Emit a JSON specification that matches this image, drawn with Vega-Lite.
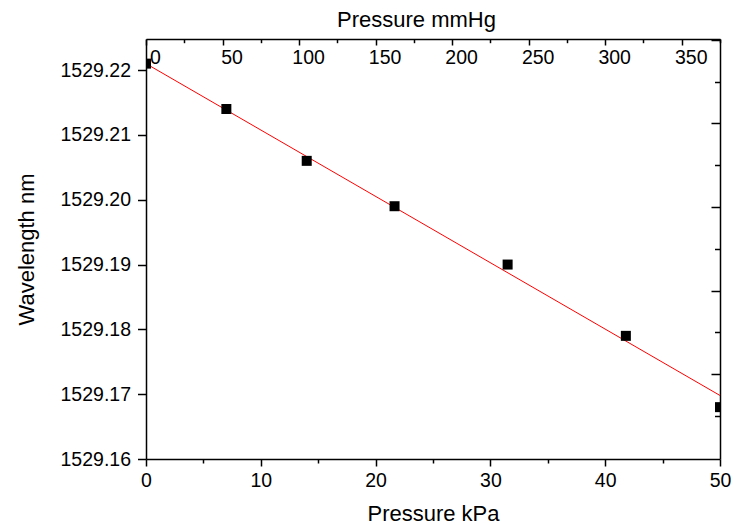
{
  "$schema": "https://vega.github.io/schema/vega-lite/v6.json",
  "width": 574,
  "height": 420,
  "autosize": "none",
  "padding": {"left": 146, "top": 39, "right": 14, "bottom": 66},
  "background": "white",
  "config": {
    "view": {"stroke": null},
    "axis": {
      "labelFont": "Liberation Sans",
      "titleFont": "Liberation Sans",
      "labelFontSize": 19.5,
      "titleFontSize": 22,
      "titleFontWeight": "normal",
      "labelColor": "black",
      "titleColor": "black",
      "domainColor": "black",
      "tickColor": "black",
      "domainWidth": 1.5,
      "tickWidth": 1.5,
      "grid": false,
      "labelFlush": false,
      "labelOverlap": false
    }
  },
  "datasets": {
    "meas": [
      {"kPa": 0, "nm": 1529.221},
      {"kPa": 7.0, "nm": 1529.214},
      {"kPa": 14.0, "nm": 1529.206},
      {"kPa": 21.65, "nm": 1529.199},
      {"kPa": 31.5, "nm": 1529.190},
      {"kPa": 41.8, "nm": 1529.179},
      {"kPa": 50, "nm": 1529.168}
    ],
    "fit": [
      {"kPa": 0, "nm": 1529.2210},
      {"kPa": 50, "nm": 1529.1698}
    ],
    "mmHgAxis": [
      {"mmHg": 0, "r": 0},
      {"mmHg": 375, "r": 10}
    ]
  },
  "layer": [
    {
      "layer": [
        {
          "data": {"name": "fit"},
          "mark": {"type": "line", "color": "#ff0000", "strokeWidth": 1, "clip": true},
          "encoding": {
            "x": {
              "field": "kPa", "type": "quantitative",
              "scale": {"domain": [0, 50], "nice": false, "zero": false},
              "axis": {
                "orient": "bottom",
                "title": "Pressure kPa",
                "values": [0, 5, 10, 15, 20, 25, 30, 35, 40, 45, 50],
                "labelExpr": "datum.value % 10 == 0 ? datum.label : ''",
                "tickSize": {"condition": {"test": "datum.value % 10 == 0", "value": 7}, "value": 4},
                "labelPadding": 5.6,
                "titleBaseline": "alphabetic",
                "titleY": 61.8,
                "titleX": 287
              }
            },
            "y": {
              "field": "nm", "type": "quantitative",
              "scale": {"domain": [1529.16, 1529.2248], "nice": false, "zero": false},
              "axis": {
                "orient": "left",
                "title": "Wavelength nm",
                "values": [1529.16, 1529.165, 1529.17, 1529.175, 1529.18, 1529.185, 1529.19, 1529.195, 1529.2, 1529.205, 1529.21, 1529.215, 1529.22],
                "format": ".2f",
                "labelExpr": "round(datum.value * 1000) % 10 == 0 ? datum.label : ''",
                "tickSize": {"condition": {"test": "round(datum.value * 1000) % 10 == 0", "value": 8.5}, "value": 5},
                "labelPadding": 7,
                "titleBaseline": "alphabetic",
                "titleX": -113,
                "titleY": 210
              }
            }
          }
        },
        {
          "data": {"name": "meas"},
          "mark": {"type": "point", "shape": "square", "filled": true, "color": "black", "size": 100, "opacity": 1, "clip": true},
          "encoding": {
            "x": {"field": "kPa", "type": "quantitative"},
            "y": {"field": "nm", "type": "quantitative"}
          }
        }
      ]
    },
    {
      "data": {"name": "mmHgAxis"},
      "mark": {"type": "point", "opacity": 0},
      "encoding": {
        "x": {
          "field": "mmHg", "type": "quantitative",
          "scale": {"domain": [0, 375], "nice": false, "zero": false},
          "axis": {
            "orient": "top",
            "title": "Pressure mmHg",
            "values": [0, 25, 50, 75, 100, 125, 150, 175, 200, 225, 250, 275, 300, 325, 350, 375],
            "labelExpr": "datum.value % 50 == 0 ? datum.label : ''",
            "tickSize": {"condition": {"test": "datum.value % 50 == 0", "value": -6}, "value": -3.7},
            "labelPadding": -3.6,
            "labelBaseline": "top",
            "labelOffset": 9,
            "titleBaseline": "alphabetic",
            "titleY": -12.3,
            "titleX": 270
          }
        },
        "y": {
          "field": "r", "type": "quantitative",
          "scale": {"domain": [-0.03, 10.02], "nice": false, "zero": false},
          "axis": {
            "orient": "right",
            "title": null,
            "labels": false,
            "values": [1, 2, 3, 4, 5, 6, 7, 8, 9, 10],
            "tickSize": {"condition": {"test": "datum.value % 2 == 0", "value": -9}, "value": -5.5}
          }
        }
      }
    }
  ],
  "resolve": {
    "scale": {"x": "independent", "y": "independent"},
    "axis": {"x": "independent", "y": "independent"}
  }
}
